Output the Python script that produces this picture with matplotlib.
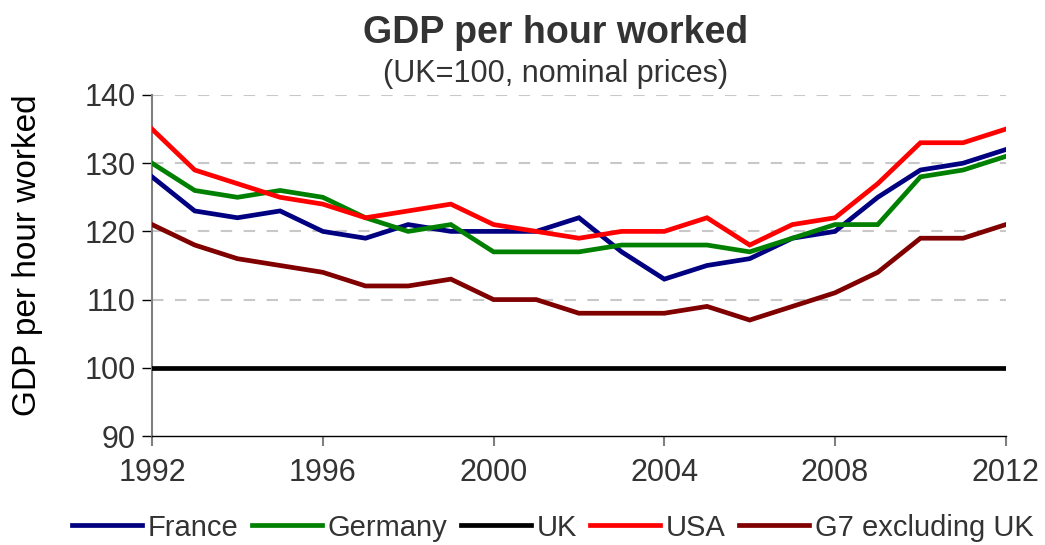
import numpy as np
import matplotlib
matplotlib.use("Agg")
import matplotlib.pyplot as plt

plt.rcParams['font.family'] = ['Liberation Sans', 'DejaVu Sans']

# data (UK = 100)
years = list(range(1992, 2013))
france = [128, 123, 122, 123, 120, 119, 121, 120, 120, 120, 122, 117, 113, 115, 116, 119, 120, 125, 129, 130, 132]
germany = [130, 126, 125, 126, 125, 122, 120, 121, 117, 117, 117, 118, 118, 118, 117, 119, 121, 121, 128, 129, 131]
uk = [100] * 21
usa = [135, 129, 127, 125, 124, 122, 123, 124, 121, 120, 119, 120, 120, 122, 118, 121, 122, 127, 133, 133, 135]
g7_ex_uk = [121, 118, 116, 115, 114, 112, 112, 113, 110, 110, 108, 108, 108, 109, 107, 109, 111, 114, 119, 119, 121]

series = [("France", france, "#000080"),
          ("Germany", germany, "#008000"),
          ("UK", uk, "#000000"),
          ("USA", usa, "#ff0000"),
          ("G7 excluding UK", g7_ex_uk, "#800000")]

fig = plt.figure(figsize=(10.45, 5.45), dpi=100)
ax = fig.add_axes([0.1455, 0.2, 0.817, 0.6257])

for name, vals, col in series:
    ax.plot(years, vals, color=col, lw=3.4, label=name, solid_joinstyle='miter', zorder=3)

ax.set_xlim(1992, 2012)
ax.set_ylim(90, 140)
ax.set_yticks(np.arange(90, 141, 10))
ax.set_xticks(range(1992, 2013, 4))

# dashed gridlines
for v in [110, 120, 130, 140]:
    ax.axhline(v, color="#c8c8c8", lw=1.5, dashes=(5.5, 5.5), zorder=1)

for s in ["top", "right"]:
    ax.spines[s].set_visible(False)
ax.spines["left"].set_color("#808080")
ax.spines["left"].set_linewidth(1.5)
ax.spines["bottom"].set_color("#000000")
ax.spines["bottom"].set_linewidth(1.0)

ax.tick_params(axis="y", length=7, width=1, color="#000000", pad=5,
               labelsize=22, labelcolor="#333333")
ax.tick_params(axis="x", length=7, width=1.5, color="#808080", pad=9,
               labelsize=22, labelcolor="#333333")

ax.set_ylabel("GDP per hour worked", fontsize=24, color="#000000")
ax.yaxis.set_label_coords(-0.128, 0.53)

fig.text(0.532, 0.94, "GDP per hour worked", ha="center", va="center",
         fontsize=27, fontweight="bold", color="#333333")
fig.text(0.532, 0.864, "(UK=100, nominal prices)", ha="center", va="center",
         fontsize=22, color="#333333")

leg = fig.legend(loc="center", bbox_to_anchor=(0.529, 0.032), ncol=5, frameon=False,
                 fontsize=21, handlelength=2.4, handletextpad=0.2, columnspacing=0.45,
                 borderaxespad=0, borderpad=0)
for t in leg.get_texts():
    t.set_color("#333333")

fig.savefig("out.png", dpi=100)
